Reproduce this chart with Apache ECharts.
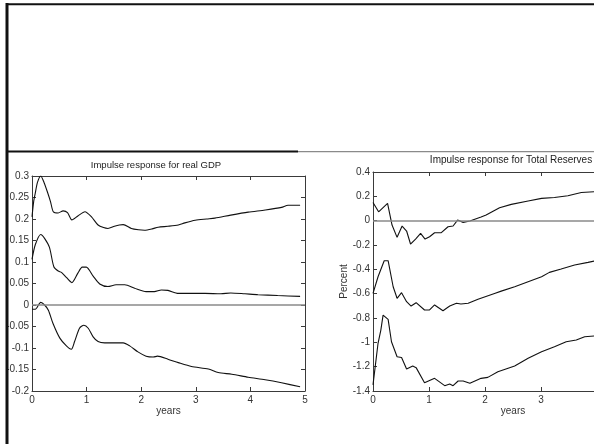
<!DOCTYPE html>
<html><head><meta charset="utf-8">
<script src="https://cdn.jsdelivr.net/npm/echarts@6.0.0/dist/echarts.min.js"></script>
<style>html,body{margin:0;padding:0;background:#fff}#c{width:594px;height:444px}</style>
</head><body><div id="c"></div>
<script>
// ---- data (years after shock, response) ----
const gdpUpperT = [0,0.03,0.06,0.1,0.16,0.22,0.29,0.34,0.39,0.48,0.57,0.65,0.73,0.84,0.97,1.09,1.21,1.31,1.39,1.51,1.6,1.67,1.82,1.95,2.06,2.2,2.31,2.49,2.68,2.8,2.99,3.2,3.35,3.64,3.96,4.27,4.57,4.69,4.91];
const gdpUpperV = [0.205,0.24,0.26,0.285,0.30,0.285,0.26,0.24,0.217,0.214,0.219,0.215,0.198,0.207,0.217,0.205,0.186,0.18,0.178,0.183,0.186,0.187,0.178,0.175,0.174,0.177,0.181,0.183,0.186,0.191,0.197,0.2,0.202,0.209,0.216,0.221,0.227,0.232,0.232];
const gdpMidT = [0,0.06,0.16,0.23,0.32,0.4,0.48,0.54,0.63,0.73,0.84,0.92,0.995,1.12,1.24,1.39,1.54,1.7,1.88,2.09,2.24,2.37,2.49,2.68,3.17,3.46,3.64,3.9,4.14,4.5,4.91];
const gdpMidV = [0.106,0.14,0.164,0.155,0.134,0.089,0.079,0.076,0.064,0.052,0.074,0.088,0.088,0.067,0.049,0.043,0.047,0.047,0.039,0.031,0.031,0.035,0.034,0.027,0.027,0.026,0.028,0.026,0.024,0.022,0.02];
const gdpLowerT = [0,0.06,0.16,0.23,0.3,0.385,0.51,0.63,0.72,0.78,0.87,0.95,1.03,1.12,1.21,1.33,1.51,1.67,1.79,1.94,2.09,2.22,2.3,2.49,2.68,2.92,3.23,3.41,3.66,3.96,4.27,4.57,4.91];
const gdpLowerV = [-0.01,-0.01,0.006,0.0,-0.012,-0.043,-0.077,-0.095,-0.103,-0.085,-0.054,-0.047,-0.054,-0.074,-0.085,-0.088,-0.088,-0.088,-0.095,-0.109,-0.119,-0.121,-0.119,-0.126,-0.134,-0.143,-0.149,-0.157,-0.161,-0.168,-0.174,-0.181,-0.19];

const resUpperT = [0,0.1,0.26,0.34,0.43,0.52,0.6,0.67,0.76,0.85,0.93,1.01,1.1,1.22,1.34,1.43,1.51,1.61,1.73,1.93,2.02,2.26,2.47,2.77,3.01,3.24,3.48,3.72,3.95];
const resUpperV = [0.15,0.073,0.142,-0.036,-0.137,-0.044,-0.085,-0.192,-0.151,-0.104,-0.151,-0.132,-0.099,-0.099,-0.05,-0.044,0.005,-0.014,-0.003,0.03,0.046,0.106,0.134,0.161,0.183,0.191,0.205,0.232,0.238];
const resMidT = [0,0.09,0.2,0.27,0.36,0.43,0.51,0.6,0.68,0.77,0.92,1.01,1.1,1.25,1.37,1.49,1.57,1.7,1.875,2.17,2.29,2.53,2.77,3.01,3.15,3.36,3.6,3.84,3.95];
const resMidV = [-0.598,-0.461,-0.329,-0.329,-0.543,-0.638,-0.592,-0.666,-0.702,-0.674,-0.734,-0.734,-0.693,-0.74,-0.702,-0.679,-0.685,-0.679,-0.646,-0.598,-0.579,-0.543,-0.502,-0.461,-0.425,-0.398,-0.365,-0.343,-0.332];
const resLowerT = [0,0.02,0.09,0.14,0.18,0.27,0.33,0.43,0.51,0.6,0.71,0.77,0.92,1.1,1.28,1.37,1.43,1.52,1.61,1.73,1.93,2.05,2.23,2.53,2.77,3.01,3.24,3.45,3.63,3.78,3.95];
const resLowerV = [-1.35,-1.337,-1.008,-0.899,-0.776,-0.811,-0.995,-1.118,-1.124,-1.219,-1.195,-1.208,-1.332,-1.296,-1.356,-1.342,-1.356,-1.318,-1.318,-1.337,-1.296,-1.288,-1.241,-1.195,-1.131,-1.077,-1.036,-0.995,-0.981,-0.954,-0.948];

// ---- tick labels ----
const xTickLabels = ['0','1','2','3','4','5'];
const gdpTickLabels = ['-0.2','-0.15','-0.1','-0.05','0','0.05','0.1','0.15','0.2','0.25','0.3'];
const resTickLabels = ['-1.4','-1.2','-1','-0.8','-0.6','-0.4','-0.2','0','0.2','0.4'];

const titles = ['Impulse response for real GDP', 'Impulse response for Total Reserves'];
const xName = 'years';
const resYName = 'Percent';

const FONT = '"Liberation Sans", Arial, Helvetica, sans-serif';
const AX = '#3a3a3a';
const zip = (t, v) => t.map((x, i) => [x, v[i]]);

function xAx(grid, pos, labels) {
  return {
    type: 'value', gridIndex: grid, position: pos, min: 0, max: 5, interval: 1,
    axisLine: { show: true, onZero: false, lineStyle: { color: AX, width: 1 } },
    axisTick: { show: true, inside: true, length: 4, lineStyle: { color: AX } },
    axisLabel: labels ? { show: true, margin: 4, fontSize: 10, color: '#333', fontFamily: FONT,
      showMinLabel: true, showMaxLabel: true, formatter: v => xTickLabels[Math.round(v)] } : { show: false },
    splitLine: { show: false },
    name: labels ? xName : '', nameLocation: 'middle', nameGap: 14,
    nameTextStyle: { fontSize: 10, color: '#333', fontFamily: FONT }
  };
}
function yAx(grid, pos, min, max, step, tl, name) {
  return {
    type: 'value', gridIndex: grid, position: pos, min: min, max: max, interval: step,
    axisLine: { show: true, onZero: false, lineStyle: { color: AX, width: 1 } },
    axisTick: { show: true, inside: true, length: 4, lineStyle: { color: AX } },
    axisLabel: tl ? { show: true, margin: 3, fontSize: 10, color: '#333', fontFamily: FONT,
      showMinLabel: true, showMaxLabel: true, formatter: v => tl[Math.round((v - min) / step)] } : { show: false },
    splitLine: { show: false },
    name: name || '', nameLocation: 'middle', nameRotate: 90, nameGap: 22,
    nameTextStyle: { fontSize: 10, color: '#333', fontFamily: FONT }
  };
}
const lineS = (xi, yi, data, zero, smooth) => ({
  type: 'line', xAxisIndex: xi, yAxisIndex: yi, data: data, showSymbol: false, symbol: 'none',
  smooth: smooth || false, lineStyle: { color: '#111', width: 1.1 }, silent: true, animation: false, z: 3,
  markLine: zero ? { silent: true, symbol: 'none', label: { show: false }, animation: false,
    lineStyle: { color: '#8a8a8a', width: 1.6, type: 'solid' }, data: [{ yAxis: 0 }] } : undefined
});

const chart = echarts.init(document.getElementById('c'), null, { renderer: 'canvas' });
chart.setOption({
  backgroundColor: '#fff',
  animation: false,
  grid: [
    { left: 32, top: 176, width: 273, height: 215, containLabel: false, outerBoundsMode: 'none' },
    { left: 373, top: 172, width: 280, height: 219, containLabel: false, outerBoundsMode: 'none' }
  ],
  xAxis: [ xAx(0, 'bottom', true), xAx(0, 'top', false), xAx(1, 'bottom', true), xAx(1, 'top', false) ],
  yAxis: [
    yAx(0, 'left', -0.2, 0.3, 0.05, gdpTickLabels), yAx(0, 'right', -0.2, 0.3, 0.05, null),
    yAx(1, 'left', -1.4, 0.4, 0.2, resTickLabels, resYName), yAx(1, 'right', -1.4, 0.4, 0.2, null)
  ],
  series: [
    lineS(0, 0, zip(gdpUpperT, gdpUpperV), true, 0.25),
    lineS(0, 0, zip(gdpMidT, gdpMidV), false, 0.25),
    lineS(0, 0, zip(gdpLowerT, gdpLowerV), false, 0.25),
    lineS(2, 2, zip(resUpperT, resUpperV), true),
    lineS(2, 2, zip(resMidT, resMidV)),
    lineS(2, 2, zip(resLowerT, resLowerV))
  ],
  graphic: [
    { type: 'line', shape: { x1: 6, y1: 4.3, x2: 594, y2: 4.3 }, style: { stroke: '#111', lineWidth: 2 }, z: 10 },
    { type: 'line', shape: { x1: 7, y1: 3, x2: 7, y2: 444 }, style: { stroke: '#111', lineWidth: 3 }, z: 10 },
    { type: 'line', shape: { x1: 6, y1: 151.5, x2: 298, y2: 151.5 }, style: { stroke: '#111', lineWidth: 2 }, z: 10 },
    { type: 'line', shape: { x1: 298, y1: 151.7, x2: 594, y2: 151.7 }, style: { stroke: '#8a8a8a', lineWidth: 1.3 }, z: 10 },
    { type: 'text', x: 156, y: 165, style: { text: titles[0], fill: '#222', font: '9.5px ' + FONT,
      align: 'center', verticalAlign: 'middle', textAlign: 'center', textVerticalAlign: 'middle' } },
    { type: 'text', x: 511, y: 160, style: { text: titles[1], fill: '#222', font: '10px ' + FONT,
      align: 'center', verticalAlign: 'middle', textAlign: 'center', textVerticalAlign: 'middle' } }
  ]
});
</script></body></html>
